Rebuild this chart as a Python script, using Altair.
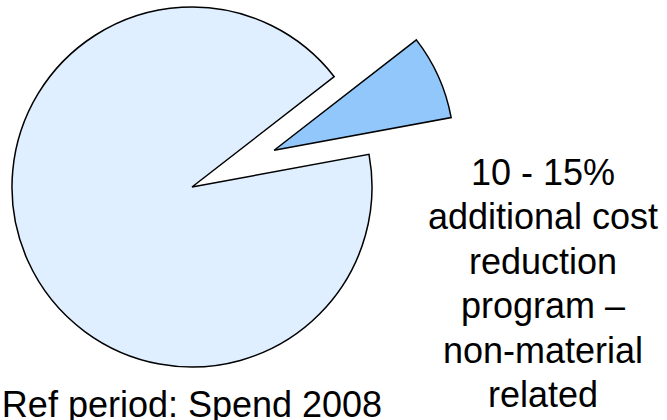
import math
import altair as alt
import pandas as pd

# ---- data ----
categories = ["Additional cost reduction (non-material)", "Spend 2008"]
values = [7.6, 92.4]
colors = ["#92C7FB", "#DFEFFF"]
label_lines = ["10 - 15%", "additional cost", "reduction", "program –", "non-material", "related"]
footer = "Ref period: Spend 2008"

# ---- layout ----
W, H = 667, 420
CX, CY = 192, 187
R = 180
START_DEG = 52.2
EXPLODE = 90
FONT = "Liberation Sans, Arial, sans-serif"

total = sum(values)
start_rad = math.radians(START_DEG)
mid_frac = values[0] / 2 / total
mid_ang = start_rad + mid_frac * 2 * math.pi
dx = EXPLODE * math.sin(mid_ang)
dy = -EXPLODE * math.cos(mid_ang)

df = pd.DataFrame({"cat": categories, "value": values, "idx": list(range(len(values)))})

base = alt.Chart(df).transform_stack(
    stack="value", groupby=[], as_=["s", "e"], sort=[alt.SortField("idx")]
)

theta = alt.Theta("s:Q", scale=alt.Scale(domain=[0, total], range=[start_rad, start_rad + 2 * math.pi]))
theta2 = alt.Theta2("e:Q")
color = alt.Color("cat:N", scale=alt.Scale(domain=categories, range=colors), legend=None)

main = base.transform_filter(alt.datum.idx == 1).mark_arc(
    outerRadius=R, stroke="black", strokeWidth=1.5, strokeJoin="miter"
).encode(theta=theta, theta2=theta2, color=color, x=alt.value(CX), y=alt.value(CY))

small = base.transform_filter(alt.datum.idx == 0).mark_arc(
    outerRadius=R, stroke="black", strokeWidth=1.5, strokeJoin="miter", xOffset=dx, yOffset=dy
).encode(theta=theta, theta2=theta2, color=color, x=alt.value(CX), y=alt.value(CY))

lbl = alt.Chart(pd.DataFrame({"t": [label_lines]})).mark_text(
    font=FONT, fontSize=36, lineHeight=44.4, align="center", baseline="alphabetic", color="black"
).encode(text="t", x=alt.value(543), y=alt.value(185))

foot = alt.Chart(pd.DataFrame({"t": [footer]})).mark_text(
    font=FONT, fontSize=36, align="center", baseline="alphabetic", color="black"
).encode(text="t:N", x=alt.value(CX), y=alt.value(417))

chart = alt.layer(main, small, lbl, foot).properties(
    width=W, height=H, autosize=alt.AutoSizeParams(type="none"), padding=0
).configure_view(stroke=None)

chart.save("out.html", embed_options={"renderer": "svg", "actions": False})
